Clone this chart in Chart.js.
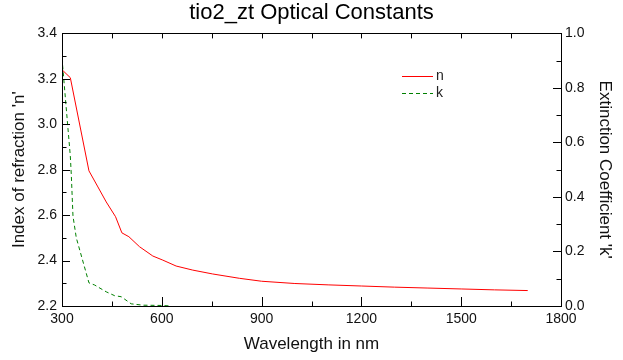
<!DOCTYPE html>
<html>
<head>
<meta charset="utf-8">
<script src="https://cdn.jsdelivr.net/npm/chart.js@4"></script>
<style>
  body { margin: 0; background: #fff; }
</style>
</head>
<body>
<canvas id="myChart" width="623" height="360"></canvas>
<script>
// refractive index n
const nWavelength = [300, 325, 381, 408, 433, 461, 480, 501, 533, 573, 603, 643, 693, 753, 833, 900, 1000, 1100, 1200, 1300, 1400, 1500, 1600, 1700];
const nValues = [3.24, 3.205, 2.795, 2.724, 2.658, 2.593, 2.522, 2.505, 2.461, 2.42, 2.402, 2.376, 2.358, 2.341, 2.322, 2.309, 2.299, 2.293, 2.288, 2.283, 2.279, 2.275, 2.271, 2.268];
// extinction coefficient k
const kWavelength = [300, 302, 325, 328, 333, 343, 381, 398, 433, 458, 478, 508, 543, 600, 628];
const kValues = [0.96, 0.88, 0.55, 0.48, 0.33, 0.25, 0.085, 0.077, 0.052, 0.038, 0.034, 0.008, 0.003, 0.002, 0.0];

const xTicks = [300, 600, 900, 1200, 1500, 1800];
const fontFam = "'Liberation Sans', Arial, sans-serif";

const toPoints = (xs, ys) => xs.map((x, i) => ({ x: x, y: ys[i] }));

// inward ticks, minor ticks, top border, legend
const frame = {
  id: 'frame',
  afterDraw(chart) {
    const c = chart.ctx, a = chart.chartArea;
    const x = chart.scales.x, y = chart.scales.y, y1 = chart.scales.y1;
    c.save();
    c.strokeStyle = '#000';
    c.lineWidth = 1;
    c.beginPath();
    c.rect(Math.round(a.left) + 0.5, Math.round(a.top) + 0.5, Math.round(a.right - a.left), Math.round(a.bottom - a.top));
    for (let v = 300; v <= 1800; v += 150) {
      const px = Math.round(x.getPixelForValue(v)) + 0.5;
      const len = (v % 300 === 0) ? 9 : 4.5;
      c.moveTo(px, a.bottom); c.lineTo(px, a.bottom - len);
      c.moveTo(px, a.top); c.lineTo(px, a.top + 5);
    }
    for (let i = 0; i <= 12; i++) {
      const py = Math.round(y.getPixelForValue(2.2 + i * 0.1)) + 0.5;
      const len = (i % 2 === 0) ? 8 : 4.5;
      c.moveTo(a.left, py); c.lineTo(a.left + len, py);
    }
    for (let i = 0; i <= 10; i++) {
      const py = Math.round(y1.getPixelForValue(i * 0.1)) + 0.5;
      const len = (i % 2 === 0) ? 8 : 4.5;
      c.moveTo(a.right, py); c.lineTo(a.right - len, py);
    }
    c.stroke();

    // legend
    c.font = '14px ' + fontFam;
    c.textBaseline = 'middle';
    c.fillStyle = '#222';
    chart.data.datasets.forEach((ds, i) => {
      const ly = 76 + i * 17;
      c.beginPath();
      c.strokeStyle = ds.borderColor;
      c.setLineDash(ds.borderDash || []);
      c.moveTo(402, ly + 0.5); c.lineTo(433, ly + 0.5);
      c.stroke();
      c.fillText(ds.label, 436, ly);
    });
    c.restore();
  }
};

const ctx = document.getElementById('myChart');
const grafico = new Chart(ctx, {
  type: 'line',
  data: {
    datasets: [{
      label: 'n',
      data: toPoints(nWavelength, nValues),
      borderColor: '#ff0000',
      borderWidth: 1,
      pointRadius: 0,
      tension: 0,
      yAxisID: 'y'
    }, {
      label: 'k',
      data: toPoints(kWavelength, kValues),
      borderColor: '#008000',
      borderWidth: 1,
      borderDash: [4, 3],
      pointRadius: 0,
      tension: 0,
      yAxisID: 'y1'
    }]
  },
  options: {
    responsive: false,
    animation: false,
    devicePixelRatio: 1,
    layout: { padding: 0 },
    plugins: {
      legend: { display: false },
      tooltip: { enabled: false },
      title: {
        display: true,
        text: 'tio2_zt Optical Constants',
        color: '#000',
        font: { family: fontFam, size: 22, weight: 'normal' },
        padding: { top: 0, bottom: 7 }
      }
    },
    scales: {
      x: {
        type: 'linear',
        min: 300,
        max: 1800,
        afterFit: s => { s.height = 54; },
        afterBuildTicks: s => { s.ticks = xTicks.map(v => ({ value: v })); },
        grid: { display: false, drawTicks: false },
        border: { display: true, color: '#000' },
        ticks: { color: '#111', padding: 5, font: { family: fontFam, size: 14 },
          callback: v => String(v) },
        title: {
          display: true,
          text: 'Wavelength in nm',
          color: '#111',
          font: { family: fontFam, size: 17 },
          padding: { top: 0, bottom: 5 }
        }
      },
      y: {
        position: 'left',
        min: 2.2,
        max: 3.4,
        afterFit: s => { s.width = 62; },
        grid: { display: false, drawTicks: false },
        border: { display: true, color: '#000' },
        ticks: { stepSize: 0.2, color: '#111', padding: 5, font: { family: fontFam, size: 14 },
          callback: v => v.toFixed(1) },
        title: {
          display: true,
          text: "Index of refraction 'n'",
          color: '#111',
          font: { family: fontFam, size: 17 },
          padding: { top: 9, bottom: 0 }
        }
      },
      y1: {
        position: 'right',
        min: 0,
        max: 1,
        afterFit: s => { s.width = 62; },
        grid: { display: false, drawTicks: false },
        border: { display: true, color: '#000' },
        ticks: { stepSize: 0.2, color: '#111', padding: 4, font: { family: fontFam, size: 14 },
          callback: v => v.toFixed(1) },
        title: {
          display: true,
          text: "Extinction Coefficient 'k'",
          color: '#111',
          font: { family: fontFam, size: 17 },
          padding: { top: 8, bottom: 0 }
        }
      }
    }
  },
  plugins: [frame]
});
</script>
</body>
</html>
